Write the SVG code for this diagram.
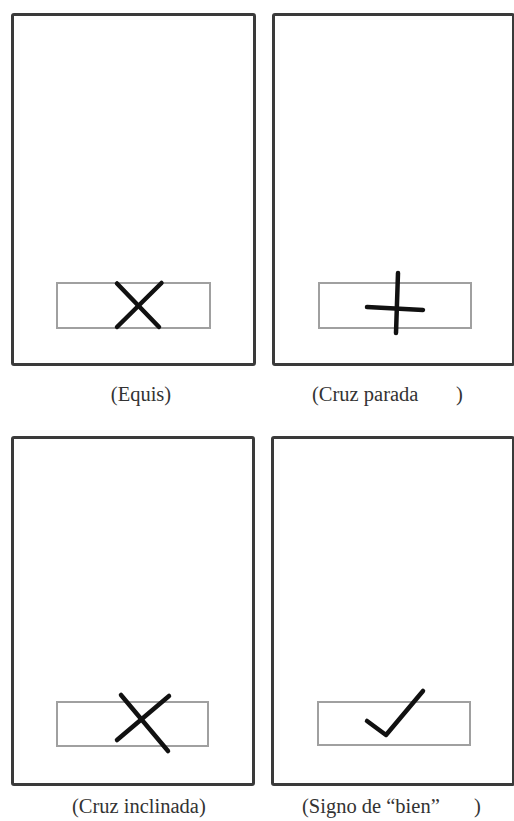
<svg xmlns="http://www.w3.org/2000/svg" width="514" height="821" viewBox="0 0 514 821">
<style>
.frame{fill:#fff;stroke:#3a3a3a;stroke-width:3}
.box{fill:none;stroke:#a0a0a0;stroke-width:2}
.mark{fill:none;stroke:#111;stroke-width:4.5;stroke-linecap:round;stroke-linejoin:round}
.lbl{font-family:"Liberation Serif","Times New Roman",serif;font-size:20.5px;fill:#333}
</style>
<rect width="514" height="821" fill="#fff"/>
<g id="equis">
<rect class="frame" x="12.5" y="14.5" width="242" height="350" rx="1.5"/>
<rect class="box" x="57" y="283" width="153" height="45"/>
<line class="mark" x1="117" y1="283.5" x2="159" y2="327"/>
<line class="mark" x1="161.5" y1="283" x2="117" y2="327"/>
<text class="lbl" x="141" y="401" text-anchor="middle">(Equis)</text>
</g>
<g id="cruz-parada">
<rect class="frame" x="273.5" y="14.5" width="240" height="350" rx="1.5"/>
<rect class="box" x="319" y="283" width="152" height="45"/>
<line class="mark" x1="398" y1="273" x2="396" y2="333"/>
<line class="mark" x1="367" y1="307" x2="423" y2="310"/>
<text class="lbl" x="312" y="401">(Cruz parada<tspan x="456">)</tspan></text>
</g>
<g id="cruz-inclinada">
<rect class="frame" x="12.5" y="437.5" width="241" height="347" rx="1.5"/>
<rect class="box" x="57" y="702" width="151" height="44"/>
<line class="mark" x1="121" y1="695" x2="168" y2="751"/>
<line class="mark" x1="169" y1="696" x2="117" y2="740"/>
<text class="lbl" x="72" y="813">(Cruz inclinada)</text>
</g>
<g id="signo-bien">
<rect class="frame" x="272.5" y="437.5" width="241" height="347" rx="1.5"/>
<rect class="box" x="318" y="702" width="152" height="43"/>
<polyline class="mark" points="367,721 386,735 423,691"/>
<text class="lbl" x="302" y="813">(Signo de “bien”<tspan x="474">)</tspan></text>
</g>
<g id="connectors"/>
</svg>
